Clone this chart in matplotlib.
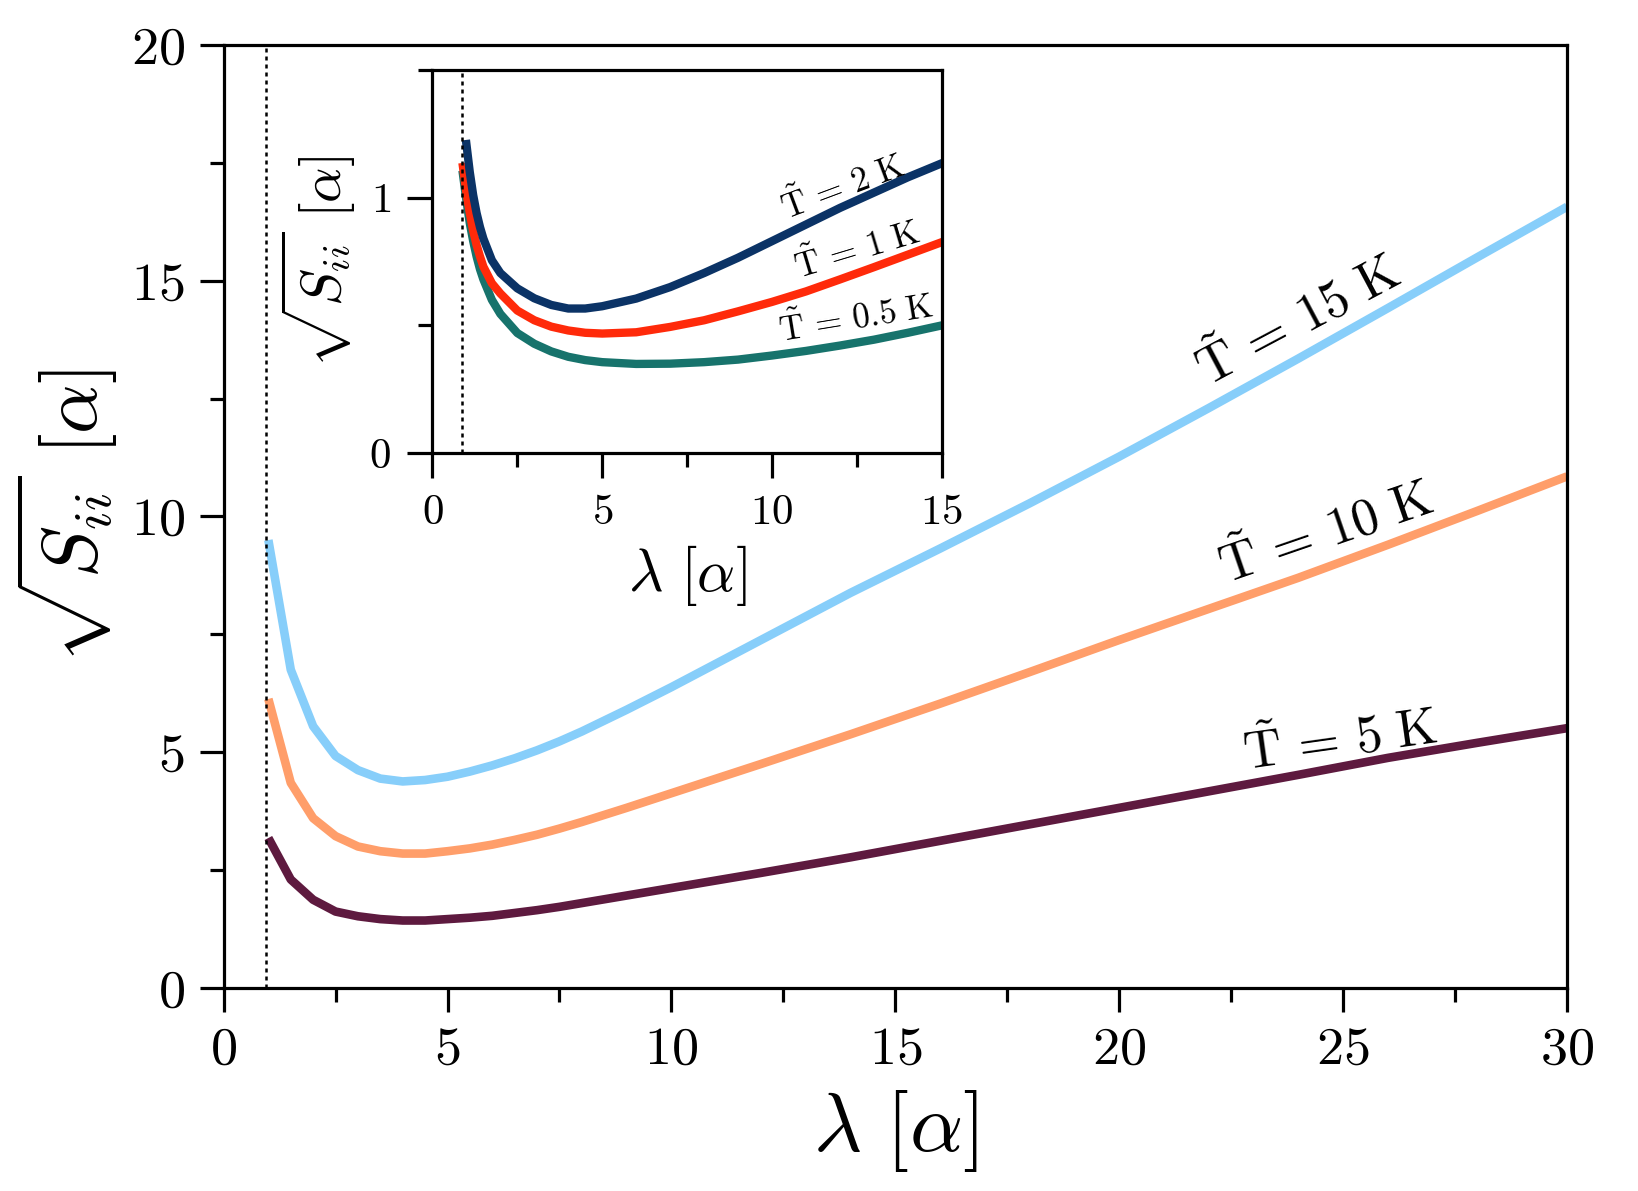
import matplotlib
matplotlib.use('Agg')
import matplotlib.pyplot as plt
from matplotlib.ticker import MultipleLocator

plt.rcParams['font.family'] = 'serif'
plt.rcParams['font.serif'] = ['cmr10']
plt.rcParams['mathtext.fontset'] = 'cm'
plt.rcParams['axes.formatter.use_mathtext'] = True

# ---------------- main panel data ----------------
lam = [1, 1.5, 2, 2.5, 3, 3.5, 4, 4.5, 5, 5.5, 6, 6.5, 7, 7.5, 8, 9, 10, 12, 14, 16, 18, 20,
       22, 24, 26, 28, 30]
s_T15 = [9.5, 6.75, 5.55, 4.92, 4.62, 4.44, 4.38, 4.41, 4.48, 4.59, 4.72, 4.87, 5.04, 5.23,
         5.44, 5.9, 6.38, 7.38, 8.38, 9.32, 10.28, 11.27, 12.3, 13.35, 14.42, 15.5, 16.57]
s_T10 = [6.13, 4.35, 3.6, 3.22, 3.0, 2.9, 2.85, 2.85, 2.9, 2.96, 3.04, 3.14, 3.25, 3.38,
         3.52, 3.82, 4.13, 4.75, 5.38, 6.03, 6.7, 7.38, 8.04, 8.7, 9.4, 10.12, 10.85]
s_T5 = [3.18, 2.3, 1.87, 1.62, 1.52, 1.46, 1.43, 1.43, 1.46, 1.49, 1.53, 1.59, 1.65, 1.72,
        1.8, 1.96, 2.12, 2.44, 2.77, 3.12, 3.47, 3.82, 4.17, 4.52, 4.88, 5.2, 5.51]
main_labels = [r'$\tilde{\mathrm{T}}\,=\,15\ \mathrm{K}$',
               r'$\tilde{\mathrm{T}}\,=\,10\ \mathrm{K}$',
               r'$\tilde{\mathrm{T}}\,=\,5\ \mathrm{K}$']
main_colors = ['#87CEFA', '#FF9E6A', '#5E1A3F']
main_vline = 0.95

# ---------------- inset data ----------------
lam_in_2K = [1.0, 1.1, 1.2, 1.3, 1.4, 1.5, 1.75, 2.0, 2.5, 3.0, 3.5, 4.0, 4.5, 5.0, 6.0,
             7.0, 8.0, 9.0, 10.0, 11.0, 12.0, 13.0, 14.0, 15.0]
s_in_2K = [1.21, 1.1, 1.01, 0.94, 0.885, 0.84, 0.755, 0.705, 0.645, 0.606, 0.58, 0.566,
           0.566, 0.575, 0.605, 0.65, 0.705, 0.765, 0.83, 0.895, 0.96, 1.02, 1.08, 1.135]
lam_in = [0.9, 1.0, 1.1, 1.2, 1.3, 1.4, 1.5, 1.75, 2.0, 2.5, 3.0, 3.5, 4.0, 4.5, 5.0, 6.0,
          7.0, 8.0, 9.0, 10.0, 11.0, 12.0, 13.0, 14.0, 15.0]
s_in_1K = [1.12, 1.02, 0.94, 0.87, 0.815, 0.77, 0.73, 0.665, 0.625, 0.558, 0.52, 0.495,
           0.48, 0.471, 0.468, 0.473, 0.494, 0.52, 0.555, 0.592, 0.633, 0.68, 0.728, 0.777,
           0.826]
s_in_05K = [1.09, 0.99, 0.9, 0.83, 0.77, 0.72, 0.68, 0.6, 0.545, 0.47, 0.428, 0.398, 0.377,
            0.364, 0.356, 0.349, 0.35, 0.356, 0.366, 0.382, 0.4, 0.421, 0.444, 0.471, 0.5]
inset_labels = [r'$\tilde{\mathrm{T}}\,=\,2\ \mathrm{K}$',
                r'$\tilde{\mathrm{T}}\,=\,1\ \mathrm{K}$',
                r'$\tilde{\mathrm{T}}\,=\,0.5\ \mathrm{K}$']
inset_colors = ['#0B3366', '#FF2A0A', '#17736C']
inset_vline = 0.86

fig = plt.figure(figsize=(16.38, 11.91), dpi=100)

# ---------------- main axes ----------------
ax = fig.add_axes([0.1365, 0.1705, 0.8202, 0.7917])
for ys, c in zip([s_T15, s_T10, s_T5], main_colors):
    ax.plot(lam, ys, color=c, lw=6.2, solid_capstyle='butt', solid_joinstyle='round')
ax.axvline(main_vline, color='black', lw=1.8, ls=(0, (1.6, 1.6)))
ax.set_xlim(0, 30)
ax.set_ylim(0, 20)
ax.xaxis.set_major_locator(MultipleLocator(5))
ax.xaxis.set_minor_locator(MultipleLocator(2.5))
ax.yaxis.set_major_locator(MultipleLocator(5))
ax.yaxis.set_minor_locator(MultipleLocator(2.5))
ax.tick_params(which='major', direction='out', length=17, width=2.3, labelsize=39, pad=11)
ax.tick_params(which='minor', direction='out', length=10, width=2.3)
for sp in ax.spines.values():
    sp.set_linewidth(2.3)
ax.set_xlabel(r'$\lambda\ [\alpha]$', fontsize=60, labelpad=10)
ax.set_ylabel(r'$\sqrt{S_{ii}}\ [\alpha]$', fontsize=56, labelpad=8)

ax.text(24.0, 14.15, main_labels[0], fontsize=38, rotation=28, ha='center', va='center',
        rotation_mode='anchor')
ax.text(24.6, 9.67, main_labels[1], fontsize=38, rotation=19, ha='center', va='center',
        rotation_mode='anchor')
ax.text(24.93, 5.26, main_labels[2], fontsize=38, rotation=8, ha='center', va='center',
        rotation_mode='anchor')

# ---------------- inset ----------------
ins = fig.add_axes([0.264, 0.6196, 0.311, 0.3216])
ins.plot(lam_in, s_in_05K, color=inset_colors[2], lw=6.0, solid_joinstyle='round')
ins.plot(lam_in, s_in_1K, color=inset_colors[1], lw=6.0, solid_joinstyle='round')
ins.plot(lam_in_2K, s_in_2K, color=inset_colors[0], lw=6.0, solid_joinstyle='round')
ins.axvline(inset_vline, color='black', lw=1.8, ls=(0, (1.6, 1.6)))
ins.set_xlim(0, 15)
ins.set_ylim(0, 1.5)
ins.xaxis.set_major_locator(MultipleLocator(5))
ins.xaxis.set_minor_locator(MultipleLocator(2.5))
ins.yaxis.set_major_locator(MultipleLocator(1))
ins.yaxis.set_minor_locator(MultipleLocator(0.5))
ins.tick_params(which='major', direction='out', length=18, width=2.3, labelsize=31, pad=12)
ins.tick_params(which='minor', direction='out', length=10, width=2.3)
for sp in ins.spines.values():
    sp.set_linewidth(2.3)
ins.set_xlabel(r'$\lambda\ [\alpha]$', fontsize=43, labelpad=8)
ins.set_ylabel(r'$\sqrt{S_{ii}}\ [\alpha]$', fontsize=40, labelpad=8)

ins.text(12.08, 1.04, inset_labels[0], fontsize=25, rotation=20.5, ha='center', va='center',
         rotation_mode='anchor')
ins.text(12.52, 0.794, inset_labels[1], fontsize=25, rotation=16.7, ha='center', va='center',
         rotation_mode='anchor')
ins.text(12.47, 0.526, inset_labels[2], fontsize=25, rotation=9.3, ha='center', va='center',
         rotation_mode='anchor')

fig.savefig('out.png', dpi=100)
